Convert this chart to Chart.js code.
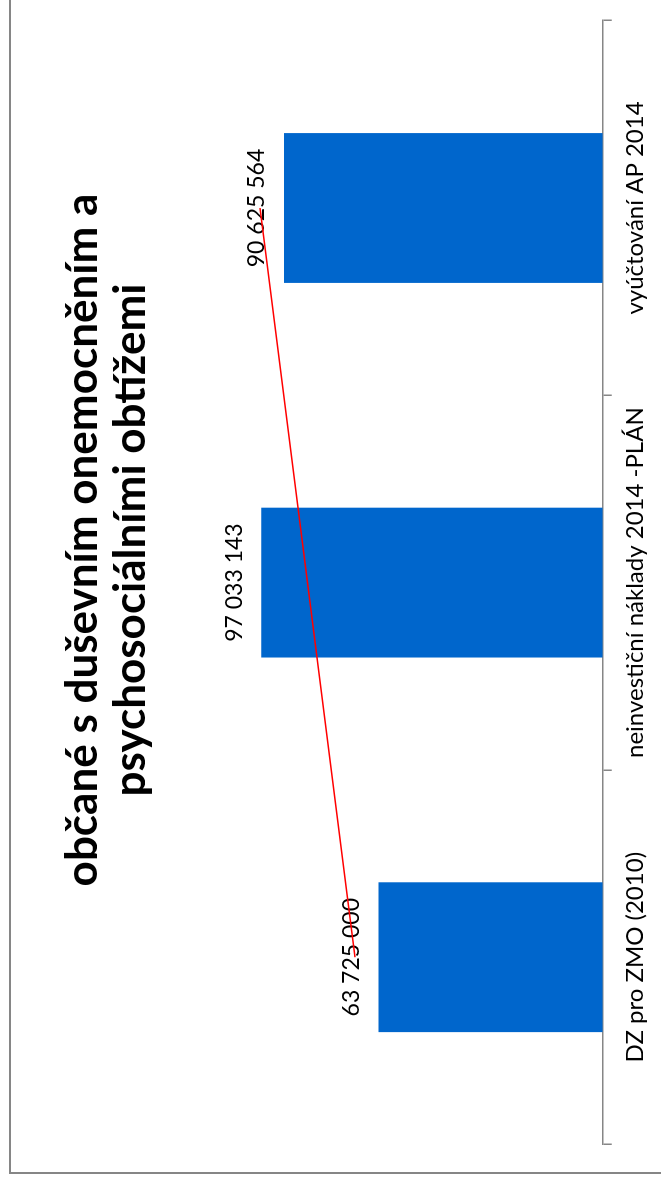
<!DOCTYPE html>
<html>
<head>
<meta charset="utf-8">
<script src="https://cdn.jsdelivr.net/npm/chart.js@4.4.0/dist/chart.umd.min.js"></script>
<style>
  html, body { margin: 0; padding: 0; background: #fff; overflow: hidden; }
  /* chart is drawn landscape and turned a quarter left, like the source */
  #wrap { position: absolute; left: 0; top: 0; width: 1180px; height: 661px;
          transform-origin: 0 0; transform: translate(0, 1180px) rotate(-90deg); }
</style>
</head>
<body>
<div id="wrap"><canvas id="chartCanvas" width="1180" height="661"></canvas></div>
<script>
var categories  = ["DZ pro ZMO (2010)", "neinvestiční náklady 2014 -PLÁN", "vyúčtování AP 2014"];
var amounts     = [63725000, 97033143, 90625564];
var trendValues = [70400000, null, 97400000];   // red line, drawn between 1st and 3rd category
var titleLines  = ["občané s duševním onemocněním a", "psychosociálními obtížemi"];

function formatNumber(v) {
    return String(v).replace(/\B(?=(\d{3})+(?!\d))/g, " ");
}

var decorPlugin = {
    id: "decor",
    beforeDraw: function(chart) {
        var ctx = chart.ctx;
        // outer frame (only top and left edges are inside the picture)
        ctx.save();
        ctx.strokeStyle = "#868686";
        ctx.lineWidth = 2;
        ctx.beginPath();
        ctx.moveTo(7, 700);
        ctx.lineTo(7, 10);
        ctx.lineTo(1300, 10);
        ctx.stroke();
        ctx.restore();
    },
    beforeDatasetsDraw: function(chart) {
        var ctx = chart.ctx;
        var meta = chart.getDatasetMeta(0);
        ctx.save();
        ctx.fillStyle = "#000";
        ctx.textAlign = "center";

        //value labels above the bars
        ctx.font = "23px Lato";
        ctx.textBaseline = "middle";
        meta.data.forEach(function(bar, i) {
            ctx.fillText(formatNumber(amounts[i]), bar.x, bar.y - 27);
        });

        //title
        ctx.font = "bold 44px Lato";
        ctx.textBaseline = "alphabetic";
        titleLines.forEach(function(t, i) {
            ctx.fillText(t, 640, 97 + i * 48);
        });
        ctx.restore();
    }
};

var canvas = document.getElementById("chartCanvas");

new Chart(canvas, {
    data: {
        labels: categories,
        datasets: [{
            type: "bar",
            data: amounts,
            backgroundColor: "#0066CC",
            borderWidth: 0,
            barPercentage: 0.4,
            categoryPercentage: 1,
            order: 1
        }, {
            type: "line",
            data: trendValues,
            borderColor: "#FF0000",
            borderWidth: 1.6,
            pointRadius: 0,
            spanGaps: true,
            order: 0
        }]
    },
    options: {
        responsive: false,
        animation: false,
        layout: { padding: { top: 75, left: 35.5, right: 20.7, bottom: 0 } },
        plugins: {
            legend: { display: false },
            tooltip: { enabled: false },
            title: { display: false }
        },
        scales: {
            x: {
                offset: true,
                grid: { display: true, offset: true, drawOnChartArea: false, drawTicks: true,
                        tickLength: 9, color: "#868686", lineWidth: 1.5 },
                border: { display: true, color: "#868686", width: 1.5 },
                ticks: { color: "#000", font: { family: "Lato", size: 24 }, padding: 9,
                         autoSkip: false, maxRotation: 0 },
                afterFit: function(scale) { scale.height = 58.3; }
            },
            y: {
                display: false,
                min: 0,
                max: 150000000
            }
        }
    },
    plugins: [decorPlugin]
});
</script>
</body>
</html>
